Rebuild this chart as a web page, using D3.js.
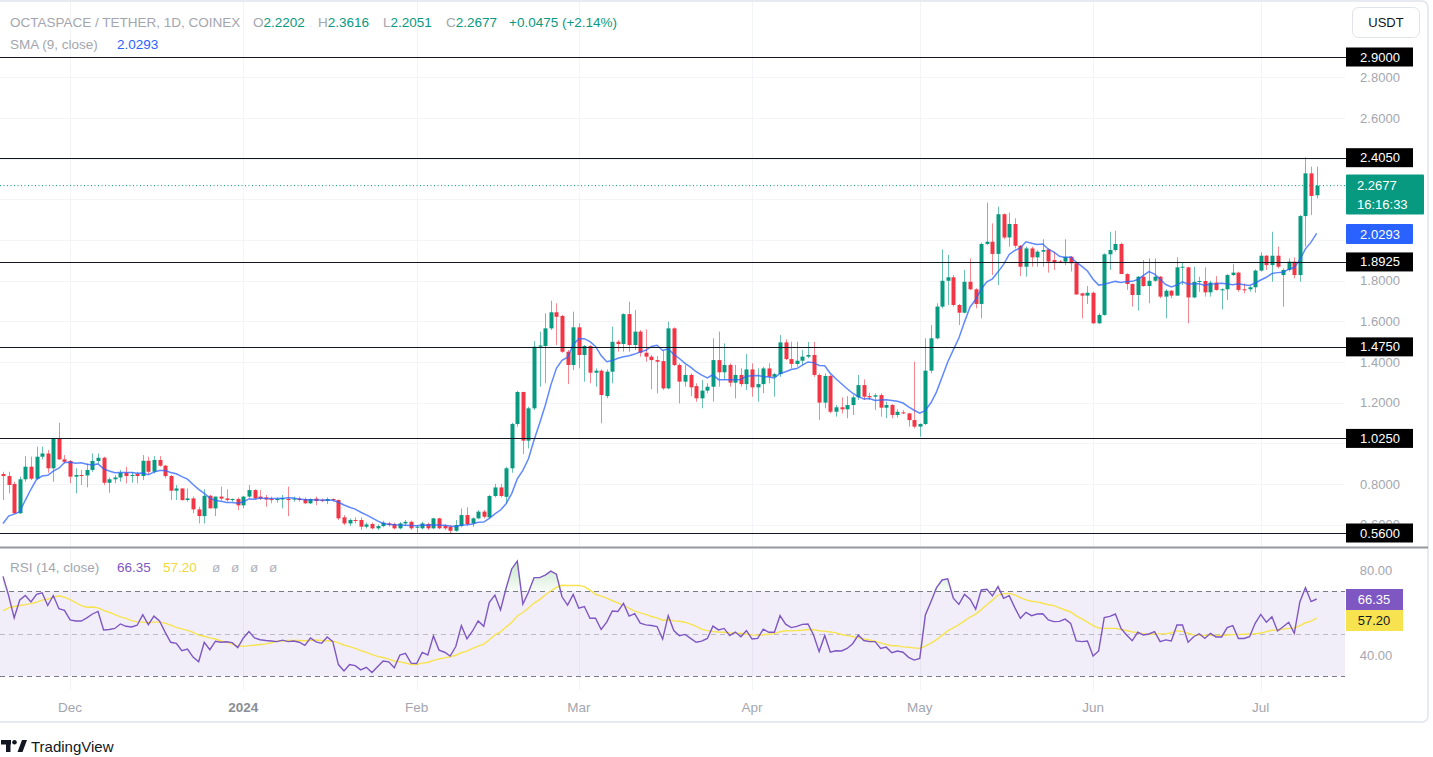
<!DOCTYPE html>
<html><head><meta charset="utf-8">
<script src="https://cdnjs.cloudflare.com/ajax/libs/d3/7.8.5/d3.min.js"></script>
<style>
body{margin:0;background:#fff;overflow:hidden}
svg{display:block}
text{font-family:"Liberation Sans",Arial,sans-serif}
</style>
</head><body>
<svg id="c" width="1433" height="757"></svg>
<script>
// ---------------- DATA ----------------
const firstDay = "2023-11-19";   // daily candles, one per day
const opens = [0.850,0.840,0.801,0.657,0.824,0.886,0.827,0.935,0.951,0.878,1.025,0.922,0.914,0.837,0.845,0.843,0.870,0.914,0.930,0.807,
0.824,0.833,0.856,0.840,0.850,0.840,0.915,0.861,0.919,0.891,0.840,0.768,0.779,0.722,0.730,0.676,0.643,0.743,0.681,0.739,
0.730,0.722,0.727,0.696,0.739,0.771,0.739,0.735,0.727,0.722,0.725,0.727,0.724,0.729,0.727,0.706,0.729,0.722,0.717,0.727,
0.722,0.637,0.607,0.624,0.624,0.591,0.604,0.583,0.594,0.607,0.604,0.583,0.607,0.615,0.586,0.583,0.604,0.583,0.632,0.596,
0.591,0.571,0.594,0.648,0.607,0.632,0.665,0.637,0.742,0.784,0.738,0.878,1.096,1.253,1.014,1.173,1.476,1.479,1.566,1.645,
1.627,1.451,1.386,1.571,1.435,1.479,1.348,1.358,1.233,1.353,1.500,1.489,1.636,1.484,1.550,1.446,1.427,1.410,1.405,1.271,
1.566,1.386,1.304,1.337,1.282,1.222,1.260,1.279,1.410,1.350,1.386,1.299,1.337,1.292,1.364,1.276,1.292,1.369,1.328,1.341,
1.497,1.415,1.391,1.407,1.427,1.435,1.337,1.201,1.332,1.156,1.178,1.168,1.189,1.227,1.287,1.233,1.230,1.238,1.176,1.189,
1.140,1.153,1.148,1.115,1.083,1.096,1.358,1.517,1.673,1.800,1.817,1.681,1.643,1.795,1.758,1.686,1.981,1.992,1.932,2.127,
2.013,2.079,1.972,1.869,1.959,1.915,1.943,1.954,1.902,1.895,1.894,1.918,1.886,1.738,1.727,1.741,1.591,1.632,1.930,1.951,
1.981,1.833,1.784,1.730,1.820,1.774,1.800,1.820,1.722,1.751,1.727,1.866,1.866,1.718,1.795,1.799,1.743,1.791,1.755,1.758,
1.828,1.840,1.758,1.758,1.768,1.850,1.923,1.877,1.923,1.828,1.853,1.894,1.828,2.118,2.328,2.2202];
const highs = [0.861,0.861,0.812,0.837,0.938,0.935,0.984,0.984,0.968,1.025,1.102,0.943,0.919,0.878,0.870,0.902,0.951,0.951,0.935,0.833,
0.845,0.870,0.886,0.861,0.861,0.943,0.935,0.938,0.938,0.894,0.845,0.796,0.779,0.779,0.739,0.689,0.775,0.747,0.739,0.788,
0.775,0.730,0.735,0.742,0.796,0.775,0.771,0.747,0.739,0.735,0.747,0.788,0.739,0.739,0.735,0.730,0.739,0.730,0.735,0.730,
0.725,0.648,0.632,0.637,0.637,0.611,0.611,0.602,0.620,0.614,0.611,0.614,0.624,0.620,0.599,0.615,0.611,0.635,0.635,0.602,
0.599,0.624,0.681,0.686,0.637,0.673,0.673,0.747,0.801,0.801,0.886,1.102,1.259,1.255,1.181,1.504,1.550,1.640,1.702,1.689,
1.632,1.460,1.648,1.591,1.484,1.484,1.369,1.364,1.364,1.574,1.509,1.640,1.697,1.656,1.558,1.561,1.435,1.430,1.456,1.599,
1.571,1.394,1.386,1.345,1.296,1.312,1.296,1.517,1.550,1.492,1.394,1.386,1.370,1.440,1.394,1.370,1.378,1.394,1.348,1.533,
1.512,1.500,1.500,1.460,1.500,1.500,1.345,1.345,1.337,1.189,1.227,1.233,1.238,1.337,1.315,1.250,1.247,1.247,1.206,1.194,
1.168,1.164,1.151,1.402,1.099,1.517,1.582,1.689,1.954,1.927,1.828,1.686,1.853,1.910,1.763,1.987,2.184,2.082,2.164,2.131,
2.135,2.107,1.976,1.968,1.968,1.951,2.004,1.959,1.943,1.902,2.004,1.922,1.889,1.741,1.774,1.746,1.640,1.935,2.041,2.046,
1.987,1.837,1.787,1.823,1.902,1.910,1.910,1.823,1.758,1.755,1.915,1.889,1.869,1.869,1.820,1.866,1.800,1.823,1.763,1.833,
1.882,1.845,1.787,1.774,1.856,1.940,1.927,2.041,1.968,1.861,1.910,1.915,2.123,2.407,2.361,2.3616];
const lows = [0.722,0.755,0.653,0.653,0.812,0.820,0.820,0.922,0.856,0.812,0.919,0.902,0.804,0.755,0.796,0.784,0.861,0.902,0.796,0.758,
0.804,0.812,0.804,0.807,0.804,0.820,0.850,0.853,0.886,0.829,0.722,0.722,0.719,0.714,0.657,0.607,0.607,0.681,0.643,0.719,
0.714,0.714,0.673,0.681,0.730,0.725,0.722,0.689,0.706,0.709,0.681,0.643,0.714,0.714,0.702,0.702,0.697,0.712,0.702,0.714,
0.624,0.599,0.594,0.607,0.575,0.583,0.578,0.575,0.588,0.591,0.578,0.578,0.594,0.575,0.561,0.578,0.575,0.578,0.578,0.575,
0.555,0.566,0.588,0.594,0.591,0.627,0.632,0.632,0.735,0.735,0.706,0.856,1.083,0.948,0.976,1.165,1.279,1.296,1.558,1.484,
1.446,1.292,1.361,1.369,1.304,1.296,1.279,1.099,1.222,1.296,1.451,1.451,1.451,1.460,1.427,1.402,1.266,1.246,1.263,1.266,
1.381,1.197,1.279,1.233,1.205,1.173,1.247,1.206,1.279,1.312,1.279,1.222,1.279,1.263,1.230,1.206,1.247,1.296,1.230,1.328,
1.410,1.369,1.378,1.386,1.419,1.328,1.115,1.173,1.148,1.132,1.148,1.124,1.140,1.214,1.214,1.214,1.165,1.132,1.124,1.124,
1.128,1.145,1.083,1.074,1.033,1.091,1.345,1.512,1.664,1.681,1.673,1.582,1.640,1.754,1.664,1.615,1.976,1.828,1.779,2.004,
1.968,1.959,1.823,1.820,1.869,1.869,1.869,1.840,1.853,1.886,1.877,1.845,1.730,1.615,1.686,1.587,1.587,1.628,1.853,1.943,
1.833,1.755,1.673,1.653,1.771,1.689,1.795,1.714,1.615,1.714,1.725,1.779,1.591,1.714,1.746,1.722,1.722,1.751,1.659,1.705,
1.823,1.746,1.738,1.746,1.741,1.845,1.853,1.795,1.861,1.673,1.845,1.812,1.795,1.968,2.123,2.2051];
const closes = [0.840,0.796,0.657,0.824,0.886,0.827,0.935,0.951,0.878,1.025,0.922,0.910,0.837,0.845,0.843,0.870,0.914,0.930,0.807,0.824,
0.833,0.856,0.840,0.845,0.840,0.915,0.861,0.919,0.891,0.840,0.768,0.779,0.722,0.730,0.676,0.643,0.743,0.681,0.739,0.729,
0.722,0.727,0.696,0.739,0.771,0.730,0.730,0.725,0.722,0.727,0.732,0.722,0.729,0.722,0.706,0.727,0.717,0.719,0.727,0.722,
0.632,0.607,0.624,0.620,0.591,0.602,0.583,0.594,0.611,0.599,0.583,0.607,0.615,0.583,0.591,0.607,0.583,0.632,0.583,0.583,
0.571,0.599,0.648,0.604,0.632,0.665,0.640,0.742,0.784,0.742,0.878,1.096,1.253,1.014,1.173,1.476,1.482,1.566,1.645,1.623,
1.451,1.386,1.571,1.435,1.479,1.348,1.358,1.238,1.353,1.500,1.489,1.636,1.484,1.550,1.446,1.427,1.410,1.402,1.271,1.566,
1.386,1.304,1.337,1.276,1.222,1.260,1.279,1.410,1.350,1.386,1.299,1.337,1.292,1.364,1.276,1.292,1.369,1.328,1.341,1.497,
1.415,1.391,1.407,1.427,1.435,1.337,1.201,1.332,1.156,1.178,1.168,1.189,1.227,1.287,1.230,1.227,1.237,1.176,1.189,1.140,
1.156,1.148,1.115,1.083,1.096,1.358,1.517,1.673,1.800,1.817,1.681,1.643,1.795,1.758,1.686,1.981,1.992,1.932,2.127,2.013,
2.079,1.972,1.869,1.959,1.915,1.943,1.951,1.894,1.889,1.892,1.918,1.886,1.733,1.727,1.741,1.591,1.632,1.930,1.951,1.981,
1.833,1.784,1.730,1.820,1.774,1.800,1.820,1.722,1.751,1.727,1.866,1.869,1.718,1.795,1.799,1.743,1.791,1.755,1.758,1.828,
1.840,1.755,1.755,1.768,1.850,1.923,1.877,1.923,1.869,1.853,1.894,1.828,2.118,2.328,2.217,2.2677];
// SMA(9) values before 9 closes are available
const smaLead = [0.607,0.643,0.653,0.665,0.722,0.775,0.824,0.840];
// RSI(14)
const rsiValues = [77,68,57.5,65.9,68,65,68.5,69.3,63.3,68,
61.8,61,56.5,56,56,57.5,59.3,60.5,51.8,52,
52.5,54.6,53.5,53.2,54,59,54.3,58.3,56,50.8,
46,45.5,42,42.8,39,36.8,46,42.5,46.5,46,
46.2,45.8,43.5,48,51,48,47.2,46.8,46.6,46.3,
47,46.3,46.6,46,44.5,48,46.2,45.5,48.5,46.3,
35.5,32.5,35.5,35,33,34.2,31.8,34.5,37.2,36.8,
34,40,40.8,36.2,36,41.2,40,49,42.3,41.3,
39.5,44,53.8,47.6,51.3,56,53.5,64.8,68.2,61.2,
71.4,80.5,84.2,64,69.5,76.4,76.4,77.6,79.5,78,
67.4,63.5,68.5,62,62.8,57.3,57.3,52,55.5,60.7,
60.5,64.3,58.3,59.5,55,54.2,53.9,53.4,47.5,58.5,
51.5,49.1,49.7,47.8,46,46.5,47.8,53.6,51.8,52.5,
49.1,50.8,48.6,51.5,47.5,47.8,52.2,50.7,50.7,58.5,
54.5,52.9,53.5,54.4,54.6,49.4,41.6,49.2,41.3,42,
41.9,43.1,45.3,49.4,46.8,46.3,46.3,43.1,43.7,41.1,
41.9,41.3,38.9,37.6,38.4,58.8,65.1,71.7,75.3,75.8,
66.7,63.8,68.5,66.3,61.6,70.6,70.9,67.8,72.2,66.7,
67.9,62.3,57.3,60.1,58.5,59.3,59.4,56.5,55.7,55.8,
56.9,54.9,46.6,46.3,46.6,39.5,41.9,57.6,58.2,59.3,
52.5,49.4,46.7,50.7,49.4,49.9,51,46.3,47.1,46.6,
54.1,54.1,46,48.6,50,47.8,50.2,48.5,48.5,52.9,
53.8,47.8,47.8,48.6,54.9,59.1,55.4,58,51.3,53.3,
55.4,50.2,65.1,71.7,65.1,66.35];
// RSI-based MA(14) values before 14 RSI values are available
const rsiMaLead = [60.8,62.2,62.8,63.3,63.7,64.2,64.8,65.8,66.3,67.2,67.9,67.2,66.1];

const levels = [2.9, 2.405, 1.8925, 1.475, 1.025, 0.56];
const priceTickLabels = [0.6,0.8,1.0,1.2,1.4,1.6,1.8,2.0,2.2,2.4,2.6,2.8];
const rsiTickLabels = [80, 40];
const rsiBands = [70, 50, 30];
const monthStarts = ["2023-12-01","2024-01-01","2024-02-01","2024-03-01","2024-04-01","2024-05-01","2024-06-01","2024-07-01"];
const monthLabels = ["Dec","2024","Feb","Mar","Apr","May","Jun","Jul"];
const lastPrice = 2.2677, lastSma = 2.0293, lastRsi = 66.35, lastRsiMa = 57.20;

// ---------------- DERIVED ----------------
const parse = d3.utcParse("%Y-%m-%d");
const start = parse(firstDay);
const n = closes.length;
const candles = closes.map((c,i)=>({date:d3.utcDay.offset(start,i),o:opens[i],h:highs[i],l:lows[i],c:c}));
const sma = closes.map((c,i)=> i<8 ? smaLead[i] : d3.mean(closes.slice(i-8,i+1)));
const rsiMa = rsiValues.map((v,i)=> i<13 ? rsiMaLead[i] : d3.mean(rsiValues.slice(i-13,i+1)));

// ---------------- LAYOUT ----------------
const svg = d3.select("#c");
const paneR = 1345;
const x = d3.scaleUtc().domain([start, d3.utcDay.offset(start,n-1)]).range([3, 3+(n-1)*5.59]);
const y = d3.scaleLinear().domain([0.56, 2.9]).range([533, 57]);
const yr = d3.scaleLinear().domain([40, 80]).range([655, 570]);
const UP="#089981", DN="#f23645";

// outer frame
svg.append("rect").attr("x",-6).attr("y",1).attr("width",1434).attr("height",721).attr("rx",6)
  .attr("fill","#fff").attr("stroke","#e0e3eb").attr("stroke-width",1.5);

const defs = svg.append("defs");
defs.append("clipPath").attr("id","mainClip").append("rect").attr("x",0).attr("y",0).attr("width",paneR).attr("height",546);
defs.append("clipPath").attr("id","rsiClip").append("rect").attr("x",0).attr("y",549).attr("width",paneR).attr("height",141);
defs.append("clipPath").attr("id","tickClip").append("rect").attr("x",1340).attr("y",0).attr("width",90).attr("height",y(0.56)-9.5);
const g = defs.append("linearGradient").attr("id","obGrad").attr("x1",0).attr("x2",0)
  .attr("gradientUnits","userSpaceOnUse").attr("y1",yr(86)).attr("y2",yr(70));
g.append("stop").attr("offset",0).attr("stop-color","#4caf50").attr("stop-opacity",0.35);
g.append("stop").attr("offset",1).attr("stop-color","#4caf50").attr("stop-opacity",0.04);

// grid
const grid = svg.append("g");
monthStarts.forEach(d=>{
  const xx = Math.round(x(parse(d)))+0.5;
  grid.append("line").attr("x1",xx).attr("x2",xx).attr("y1",2).attr("y2",546).attr("stroke","#f3f4f8");
  grid.append("line").attr("x1",xx).attr("x2",xx).attr("y1",549).attr("y2",690).attr("stroke","#f3f4f8");
});
priceTickLabels.forEach(p=>{
  const yy = Math.round(y(p))+0.5;
  grid.append("line").attr("x1",0).attr("x2",paneR).attr("y1",yy).attr("y2",yy).attr("stroke","#f3f4f8");
});

// ---------------- MAIN PANE ----------------
const main = svg.append("g").attr("clip-path","url(#mainClip)");
const bw = 4;
main.selectAll(".wick").data(candles).join("line")
  .attr("x1",d=>Math.round(x(d.date))+0.5).attr("x2",d=>Math.round(x(d.date))+0.5)
  .attr("y1",d=>y(d.h)).attr("y2",d=>y(d.l))
  .attr("stroke",d=>d.c>=d.o?UP:DN).attr("stroke-opacity",0.6).attr("stroke-width",1);
main.selectAll(".body").data(candles).join("rect")
  .attr("x",d=>Math.round(x(d.date))-1.5).attr("width",bw)
  .attr("y",d=>y(Math.max(d.o,d.c))).attr("height",d=>Math.max(1,Math.abs(y(d.o)-y(d.c))))
  .attr("fill",d=>d.c>=d.o?UP:DN);

main.append("path").datum(sma).attr("fill","none").attr("stroke","#2962ff").attr("stroke-opacity",0.75).attr("stroke-width",1.5)
  .attr("d",d3.line().x((d,i)=>x(candles[i].date)).y(d=>y(d)));

// current price dotted line
svg.append("line").attr("x1",0).attr("x2",paneR).attr("y1",y(lastPrice)).attr("y2",y(lastPrice))
  .attr("stroke",UP).attr("stroke-width",1).attr("stroke-dasharray","1,2.5");

// levels
levels.forEach(v=>{
  svg.append("line").attr("x1",0).attr("x2",1347).attr("y1",Math.round(y(v))+0.5).attr("y2",Math.round(y(v))+0.5)
    .attr("stroke","#131722").attr("stroke-width",1.2);
});

// separator
svg.append("line").attr("x1",0).attr("x2",1428).attr("y1",547.5).attr("y2",547.5).attr("stroke","#9598a1").attr("stroke-width",2);

// price axis tick labels: those sitting under a value label are hidden, as in the reference
const covered = [];
levels.filter(v=>v!==0.56).forEach(v=>covered.push([y(v)-9.5,y(v)+9.5]));
covered.push([y(lastPrice)-11, y(lastPrice)+29]);
covered.push([224,244]);
const axT = svg.append("g").attr("font-size",13).attr("fill","#a3a6af").attr("text-anchor","middle").attr("clip-path","url(#tickClip)");
priceTickLabels.forEach(p=>{
  const yy = y(p);
  if (covered.some(([a,b])=>yy>a-3 && yy<b+3)) return;
  axT.append("text").attr("x",1380).attr("y",yy).attr("dy","0.35em").text(p.toFixed(4));
});
levels.forEach(v=>{
  const yy = y(v);
  svg.append("rect").attr("x",1346).attr("y",yy-9.5).attr("width",67).attr("height",19).attr("fill","#000");
  svg.append("text").attr("x",1380).attr("y",yy).attr("dy","0.35em").attr("text-anchor","middle")
    .attr("font-size",13).attr("fill","#fff").text(v.toFixed(4));
});
// last price
svg.append("rect").attr("x",1346).attr("y",y(lastPrice)-11).attr("width",78).attr("height",40).attr("rx",1).attr("fill",UP);
svg.append("text").attr("x",1357).attr("y",y(lastPrice)).attr("dy","0.35em").attr("font-size",13).attr("fill","#fff").text(lastPrice.toFixed(4));
svg.append("text").attr("x",1357).attr("y",y(lastPrice)+19).attr("dy","0.35em").attr("font-size",13).attr("fill","#fff").text("16:16:33");
// sma label
svg.append("rect").attr("x",1346).attr("y",224).attr("width",67).attr("height",20).attr("rx",1).attr("fill","#2962ff");
svg.append("text").attr("x",1380).attr("y",234).attr("dy","0.35em").attr("text-anchor","middle").attr("font-size",13).attr("fill","#fff").text(lastSma.toFixed(4));

// USDT button
svg.append("rect").attr("x",1352.5).attr("y",7.5).attr("width",67).attr("height",30).attr("rx",6).attr("fill","#fff").attr("stroke","#e0e3eb");
svg.append("text").attr("x",1386).attr("y",22.5).attr("dy","0.35em").attr("text-anchor","middle").attr("font-size",13).attr("fill","#131722").text("USDT");

// header
const hdr = svg.append("text").attr("x",10).attr("y",27).attr("font-size",13.5).attr("fill","#a3a6af");
hdr.append("tspan").text("OCTASPACE / TETHER, 1D, COINEX");
[["O",253,opens[n-1]],["H",318,highs[n-1]],["L",383,lows[n-1]],["C",446,closes[n-1]]].forEach(([lab,xx,v])=>{
  hdr.append("tspan").attr("x",xx).text(lab);
  hdr.append("tspan").attr("fill",UP).text(v.toFixed(4));
});
hdr.append("tspan").attr("x",509).attr("fill",UP).text("+0.0475 (+2.14%)");
const hdr2 = svg.append("text").attr("x",10).attr("y",49).attr("font-size",13.5).attr("fill","#a3a6af");
hdr2.append("tspan").text("SMA (9, close)");
hdr2.append("tspan").attr("x",117).attr("fill","#2962ff").text(lastSma.toFixed(4));

// ---------------- RSI PANE ----------------
const rsiG = svg.append("g").attr("clip-path","url(#rsiClip)");
rsiG.append("rect").attr("x",0).attr("width",paneR).attr("y",yr(70)).attr("height",yr(30)-yr(70)).attr("fill","rgba(126,87,194,0.1)");
rsiBands.forEach(b=>{
  rsiG.append("line").attr("x1",0).attr("x2",paneR).attr("y1",Math.round(yr(b))+0.5).attr("y2",Math.round(yr(b))+0.5)
    .attr("stroke",b===50?"rgba(120,123,134,0.45)":"#787b86").attr("stroke-width",1).attr("stroke-dasharray","5,4");
});
rsiG.append("path").datum(rsiValues).attr("fill","url(#obGrad)")
  .attr("d",d3.area().x((d,i)=>x(candles[i].date)).y0(yr(70)).y1(d=>yr(Math.max(d,70))));
rsiG.append("path").datum(rsiMa).attr("fill","none").attr("stroke","#f7e34f").attr("stroke-width",1.4)
  .attr("d",d3.line().x((d,i)=>x(candles[i].date)).y(d=>yr(d)));
rsiG.append("path").datum(rsiValues).attr("fill","none").attr("stroke","#7e57c2").attr("stroke-width",1.4)
  .attr("d",d3.line().x((d,i)=>x(candles[i].date)).y(d=>yr(d)));

rsiTickLabels.forEach(v=>{
  svg.append("text").attr("x",1376).attr("y",yr(v)).attr("dy","0.35em").attr("text-anchor","middle")
    .attr("font-size",13).attr("fill","#a3a6af").text(v.toFixed(2));
});
svg.append("rect").attr("x",1346).attr("y",589).attr("width",57).attr("height",21).attr("fill","#7e57c2");
svg.append("text").attr("x",1374).attr("y",599.5).attr("dy","0.35em").attr("text-anchor","middle").attr("font-size",13).attr("fill","#fff").text(lastRsi.toFixed(2));
svg.append("rect").attr("x",1346).attr("y",610).attr("width",57).attr("height",21).attr("fill","#f7e34f");
svg.append("text").attr("x",1374).attr("y",620.5).attr("dy","0.35em").attr("text-anchor","middle").attr("font-size",13).attr("fill","#131722").text(lastRsiMa.toFixed(2));

const rl = svg.append("text").attr("x",10).attr("y",572).attr("font-size",13.5).attr("fill","#a3a6af");
rl.append("tspan").text("RSI (14, close)");
rl.append("tspan").attr("x",117).attr("fill","#7e57c2").text(lastRsi.toFixed(2));
rl.append("tspan").attr("x",163).attr("fill","#f0d93a").text(lastRsiMa.toFixed(2));
[212,231,250,269].forEach(xx=>rl.append("tspan").attr("x",xx).attr("fill","#b2b5be").text("ø"));

// ---------------- TIME AXIS ----------------
monthStarts.forEach((d,i)=>{
  svg.append("text").attr("x",x(parse(d))).attr("y",707).attr("dy","0.35em").attr("text-anchor","middle")
    .attr("font-size",13.5).attr("font-weight",monthLabels[i]==="2024"?"bold":"normal")
    .attr("fill",monthLabels[i]==="2024"?"#8a8d96":"#a3a6af").text(monthLabels[i]);
});

// ---------------- FOOTER ----------------
const logo = svg.append("g").attr("fill","#131722");
logo.append("rect").attr("x",1).attr("y",740).attr("width",10).attr("height",4.5);
logo.append("rect").attr("x",6).attr("y",740).attr("width",4.5).attr("height",12);
logo.append("circle").attr("cx",14.5).attr("cy",742.3).attr("r",2.3);
logo.append("path").attr("d","M17.5 752 L22 740 L27 740 L22.5 752 Z");
svg.append("text").attr("x",31).attr("y",752).attr("font-size",15).attr("fill","#131722").text("TradingView");
</script>
</body></html>
